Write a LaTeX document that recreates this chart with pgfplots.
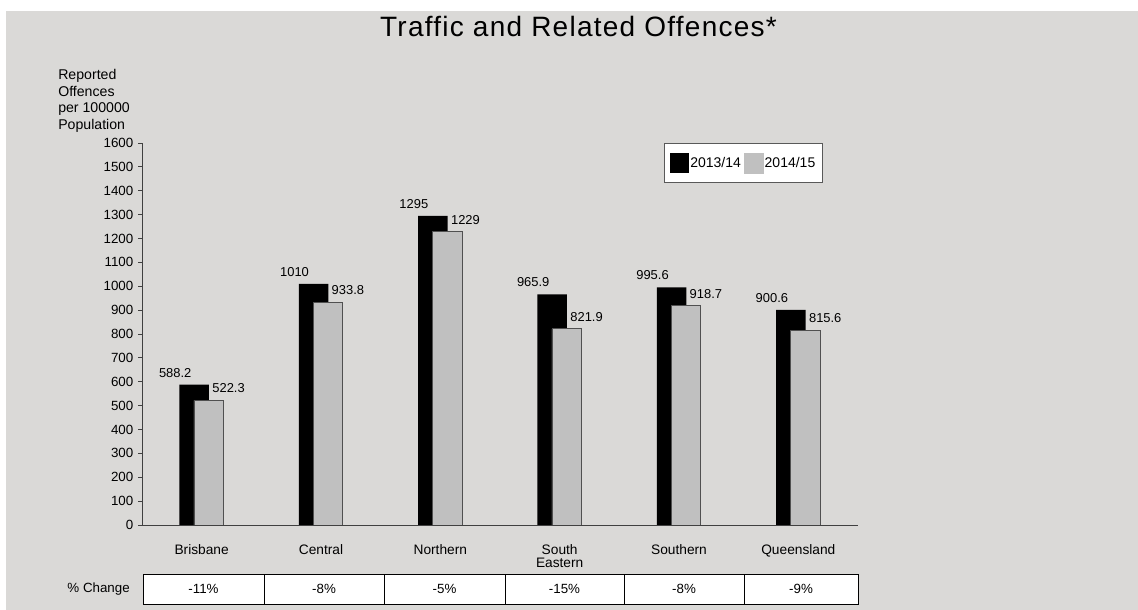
\documentclass[border=0pt]{standalone}
\usepackage{fontspec}
\setmainfont{Liberation Sans}
\newfontfamily\titlefont[LetterSpace=4.5]{Liberation Sans}
\usepackage{pgfplots}
\pgfplotsset{compat=1.18}
\definecolor{bg}{RGB}{218,217,215}
\definecolor{barg}{RGB}{192,192,192}
\definecolor{edgeg}{RGB}{80,80,80}
\begin{document}
\begin{tikzpicture}
\path[use as bounding box] (0,0) rectangle (853.5pt,457.5pt);
\fill[white] (0,0) rectangle (853.5pt,457.5pt);
\fill[bg] (4.5pt,0) rectangle (853.5pt,449.25pt);
\node[anchor=base, font=\titlefont\fontsize{21}{25}\selectfont, inner sep=0pt] at (433.9pt,429.75pt) {Traffic and Related Offences*};
\node[anchor=north west, align=left, inner sep=0pt, font=\fontsize{10.6}{12.3}\selectfont] at (43.5pt,405.5pt) {Reported\\Offences\\per 100000\\Population};
\begin{axis}[
  at={(106.5pt,63.75pt)}, anchor=south west,
  scale only axis, width=537pt, height=286.5pt,
  xmin=-0.5, xmax=5.5, ymin=0, ymax=1600,
  axis x line*=bottom, axis y line*=left,
  axis line style={black!75, line width=0.6pt},
  ytick={0,100,...,1600},
  tick align=outside, major tick length=3pt,
  ytick style={black!75, line width=0.6pt},
  xtick={0,1,2,3,4,5},
  xticklabels={Brisbane,Central,Northern,{South\\Eastern},Southern,Queensland},
  xtick style={draw=none},
  xticklabel style={align=center, font=\fontsize{10.3}{10}\selectfont, yshift=-8pt},
  yticklabel style={font=\fontsize{10}{11}\selectfont},
  /pgf/number format/assume math mode=true,
  /pgf/number format/1000 sep={},
  legend columns=2,
  legend style={at={(0.951,1)}, anchor=north east, draw=black!65, fill=white,
    inner xsep=4.5pt, inner ysep=7pt, font=\fontsize{10.5}{12}\selectfont,
    nodes={inner sep=1pt}, /tikz/every even column/.append style={column sep=1pt}},
]
\addplot[ybar, bar width=22.1pt, bar shift=-5.6pt, fill=black, draw=none,
  nodes near coords, nodes near coords style={font=\fontsize{9.7}{11}\selectfont, inner sep=0pt, anchor=south, xshift=-19.85pt, yshift=5.25pt, black},
  legend image code/.code={\fill[black] (0pt,-7.5pt) rectangle (14.25pt,7.5pt);}]
  coordinates {(0,588.2) (1,1010) (2,1295) (3,965.9) (4,995.6) (5,900.6)};
\addlegendentry{2013/14}
\addplot[ybar, bar width=22.1pt, bar shift=5.25pt, fill=barg, draw=edgeg, line width=0.6pt,
  nodes near coords, nodes near coords style={font=\fontsize{9.7}{11}\selectfont, inner sep=0pt, anchor=south west, xshift=7.75pt, yshift=5.25pt, black},
  legend image code/.code={\fill[barg] (0pt,-7.5pt) rectangle (14.25pt,7.5pt);}]
  coordinates {(0,522.3) (1,933.8) (2,1229) (3,821.9) (4,918.7) (5,815.6)};
\addlegendentry{2014/15}
\end{axis}
\node[anchor=east, inner sep=0pt, font=\fontsize{10}{12}\selectfont] at (97.5pt,15.75pt) {\% Change};
\draw[fill=white, line width=0.6pt] (107.25pt,4.5pt) rectangle (643.5pt,27pt);
\foreach \x in {198,288,378.75,468,558} \draw[line width=0.6pt] (\x pt,4.5pt) -- (\x pt,27pt);
\foreach \x/\t in {152.6/-11\%,243/-8\%,333.4/-5\%,423.4/-15\%,513/-8\%,600.75/-9\%}
  \node[font=\fontsize{10}{12}\selectfont, inner sep=0pt] at (\x pt,15.75pt) {\t};
\end{tikzpicture}
\end{document}
